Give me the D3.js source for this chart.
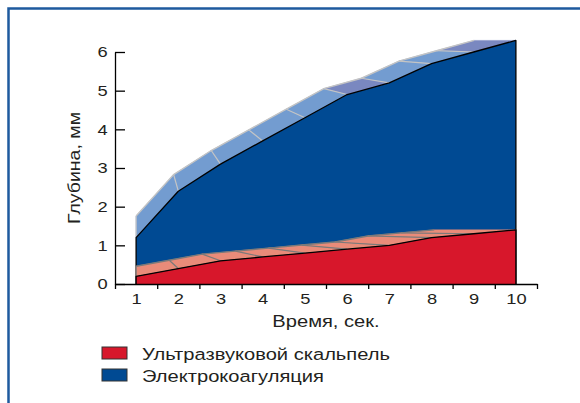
<!DOCTYPE html>
<html>
<head>
<meta charset="utf-8">
<script src="https://cdn.jsdelivr.net/npm/d3@7"></script>
<style>
  body { margin: 0; background: #fff; }
  text { font-family: "Liberation Sans", Arial, sans-serif; fill: #231f20; }
</style>
</head>
<body>
<div id="chart"></div>
<script>
// time, sec.
var categories = [1, 2, 3, 4, 5, 6, 7, 8, 9, 10];
// depth, mm
var ultrasound = [0.2, 0.4, 0.6, 0.7, 0.8, 0.9, 1.0, 1.2, 1.3, 1.4];
var electro = [1.2, 2.4, 3.1, 3.7, 4.3, 4.9, 5.2, 5.7, 6.0, 6.3];
var yTicks = [0, 1, 2, 3, 4, 5, 6];
var seriesNames = ["Ультразвуковой скальпель", "Электрокоагуляция"];

var W = 580, H = 403;
var stretch = "scale(1.22,1)"; // the original lettering is set wide

var svg = d3.select("#chart").append("svg")
  .attr("width", W)
  .attr("height", H);

// frame
svg.append("path")
  .attr("d", "M8.5," + H + "V8.5H" + W)
  .attr("fill", "none")
  .attr("stroke", "#1e5a9e")
  .attr("stroke-width", 2.5);

var x = d3.scaleLinear().domain([0.5, 10.5]).range([115, 537]),
  y = d3.scaleLinear().domain([0, 6]).range([284, 52]);

// back edge of the "3d" ribbon: pulled toward a vanishing point
function backOf(p, vp, t) {
  return [p[0] + t * (vp[0] - p[0]), p[1] + t * (vp[1] - p[1])];
}

function drawSeries(vals, o) {
  var g = svg.append("g");
  var front = vals.map(function(v, i) { return [x(categories[i]), y(v)]; });
  var vp = [x(categories[0]), y(vals[vals.length - 1])];
  var back = front.map(function(p) { return backOf(p, vp, o.depth); });

  // top faces
  for (var i = front.length - 2; i >= 0; i--) {
    var col = o.faceColor(i);
    g.append("path")
      .attr("d", d3.line()([front[i], front[i + 1], back[i + 1], back[i]]) + "Z")
      .attr("fill", col)
      .attr("stroke", col)
      .attr("stroke-width", 0.5);
  }
  // connectors across the face
  front.forEach(function(p, i) {
    if (i == front.length - 1) return;
    g.append("line")
      .attr("x1", p[0]).attr("y1", p[1])
      .attr("x2", back[i][0]).attr("y2", back[i][1])
      .attr("stroke", o.edge)
      .attr("stroke-width", 1.2);
  });
  // back edge
  g.append("path")
    .attr("d", d3.line()(back))
    .attr("fill", "none")
    .attr("stroke", o.edge)
    .attr("stroke-width", 1.4);

  // front area
  var area = d3.area()
    .x(function(d, i) { return x(categories[i]); })
    .y0(y(0))
    .y1(function(d) { return y(d); });
  g.append("path")
    .attr("d", area(vals))
    .attr("fill", o.color);

  // outline: left edge, top line, right edge
  var outline = [[front[0][0], y(0)]].concat(front, [[front[front.length - 1][0], y(0)]]);
  g.append("path")
    .attr("d", d3.line()(outline))
    .attr("fill", "none")
    .attr("stroke", "#000")
    .attr("stroke-width", 1.3)
    .attr("stroke-linejoin", "round");
}

// flatter stretches of the blue ribbon catch a more violet light
var lavender = [5, 8];
drawSeries(electro, {
  color: "#004a93",
  depth: 0.11,
  edge: "#c4c4c4",
  faceColor: function(i) { return lavender.indexOf(i) >= 0 ? "#7a88c0" : "#739cd0"; }
});
drawSeries(ultrasound, {
  color: "#d7172b",
  depth: 0.215,
  edge: "#7a7a7a",
  faceColor: function() { return "#e98b79"; }
});

// axes
svg.append("g")
  .attr("transform", "translate(" + x.range()[0] + ",0)")
  .call(d3.axisLeft(y).tickValues(yTicks).tickFormat(d3.format("d")).tickSizeInner(-10).tickSizeOuter(0).tickPadding(0))
  .call(function(g) {
    g.selectAll("text")
      .style("font-size", "15px")
      .attr("fill", "#231f20")
      .attr("font-family", null)
      .attr("x", -6)
      .attr("transform", stretch);
    g.selectAll("line, path").attr("stroke", "#000").attr("stroke-width", 1.3);
  });

var bounds = d3.range(categories.length + 1).map(function(i) { return categories[0] - 0.5 + i; });
svg.append("g")
  .attr("transform", "translate(0," + y(0) + ")")
  .call(d3.axisBottom(x).tickValues(bounds).tickFormat("").tickSizeInner(5).tickSizeOuter(0))
  .call(function(g) {
    g.selectAll("line, path").attr("stroke", "#000").attr("stroke-width", 1.3);
  });
svg.append("g")
  .attr("transform", "translate(0," + y(0) + ")")
  .call(d3.axisBottom(x).tickValues(categories).tickFormat(d3.format("d")).tickSize(0).tickPadding(9))
  .call(function(g) {
    g.select(".domain").remove();
    g.selectAll("text")
      .style("font-size", "15px")
      .attr("fill", "#231f20")
      .attr("font-family", null)
      .attr("transform", stretch);
  });

svg.append("text")
  .attr("transform", "translate(80," + (y(0) + y(6)) / 2 + ") rotate(-90) " + stretch)
  .attr("text-anchor", "middle")
  .style("font-size", "16px")
  .text("Глубина, мм");

svg.append("text")
  .attr("transform", "translate(" + (x(categories[0]) + x(categories[categories.length - 1])) / 2 + ",327) " + stretch)
  .attr("text-anchor", "middle")
  .style("font-size", "16.5px")
  .text("Время, сек.");

// legend
var legend = svg.append("g").attr("transform", "translate(102,347)");
[["#d7172b", seriesNames[0]], ["#004a93", seriesNames[1]]].forEach(function(d, i) {
  var row = legend.append("g").attr("transform", "translate(0," + i * 22 + ")");
  row.append("rect")
    .attr("width", 25).attr("height", 12)
    .attr("fill", d[0])
    .attr("stroke", "#333")
    .attr("stroke-width", 1);
  row.append("text")
    .attr("transform", "translate(40,12.5) " + stretch)
    .style("font-size", "16.5px")
    .text(d[1]);
});
</script>
</body>
</html>
